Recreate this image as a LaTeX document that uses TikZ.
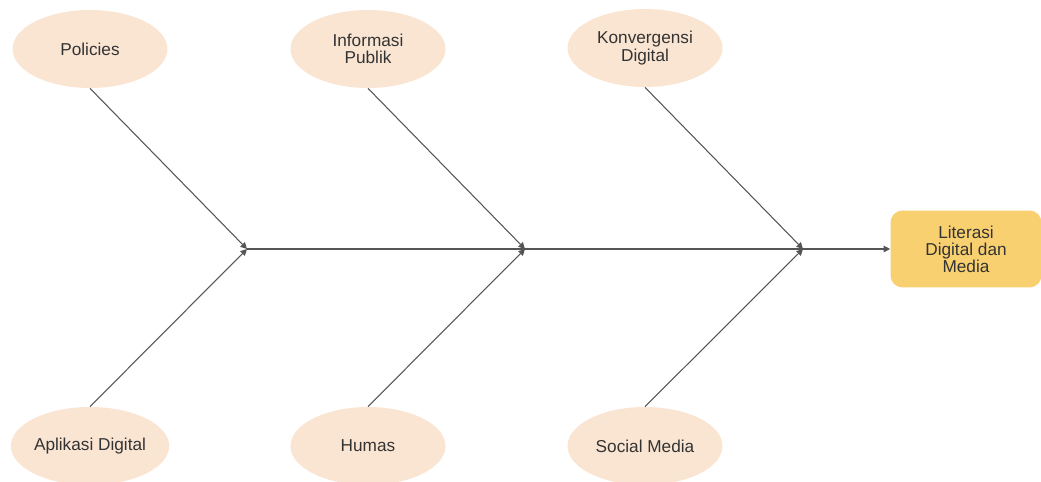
\documentclass[tikz,border=0pt]{standalone}
\usepackage{fontspec}
\setmainfont{Liberation Sans}
\usetikzlibrary{shapes.geometric,arrows.meta}
\definecolor{causa}{RGB}{250,229,211}
\definecolor{effetto}{RGB}{249,208,112}
\definecolor{linea}{RGB}{85,85,85}
\definecolor{testo}{RGB}{51,51,51}
\tikzset{
  causa/.style={ellipse,fill=causa,minimum width=3.1cm,minimum height=1.56cm,inner sep=0pt,
    text=testo,align=center,font=\fontsize{9.8}{10}\selectfont},
  effetto/.style={rectangle,rounded corners=0.24cm,fill=effetto,minimum width=3.02cm,minimum height=1.54cm,
    inner sep=0pt,text=testo,align=center,font=\fontsize{9.8}{9.6}\selectfont},
  ramo/.style={draw=linea,line width=0.6pt,-{Triangle[length=0.13cm,width=0.13cm]}}
}
\begin{document}
\begin{tikzpicture}[x=0.02cm,y=-0.02cm]
      \useasboundingbox (0,0) rectangle (1041,482);
      %cause
      \node[causa] (pol) at (90,49) {Policies};
      \node[causa] (info) at (368,49) {Informasi\\Publik};
      \node[causa] (konv) at (645,48) {Konvergensi\\Digital};
      \node[causa] (apl) at (90,446) {Aplikasi Digital};
      \node[causa] (humas) at (368,446) {Humas};
      \node[causa] (sosmed) at (645,446) {Social Media};
      %effetto
      \node[effetto] (lit) at (966,249) {Literasi\\Digital dan\\Media};
      %spina
      \coordinate (j1) at (247,249);
      \coordinate (j2) at (525,249);
      \coordinate (j3) at (803,249);
      \draw[linea,line width=0.6pt] (j1) -- (j3);
      \draw[ramo] (j3) -- (lit.west);
      %rami
      \foreach \a/\j in {pol/j1,info/j2,konv/j3} \draw[ramo] (\a.south) -- (\j);
      \foreach \a/\j in {apl/j1,humas/j2,sosmed/j3} \draw[ramo] (\a.north) -- (\j);
   \end{tikzpicture}
\end{document}
